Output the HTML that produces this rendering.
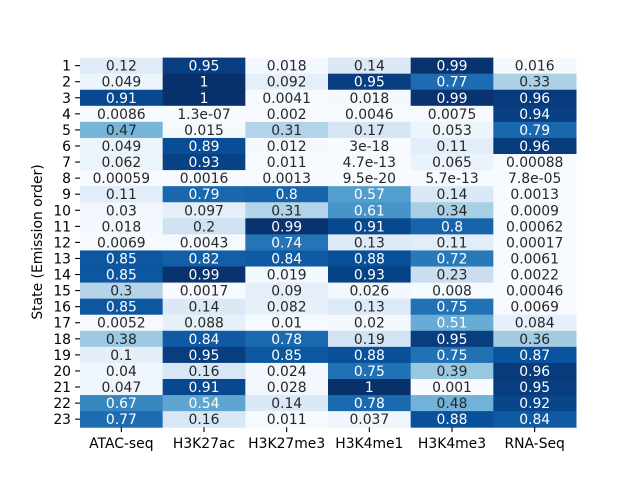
<!DOCTYPE html>
<html><head><meta charset="utf-8"><style>
html,body{margin:0;padding:0;background:#fff}
svg{display:block;font-family:"DejaVu Sans","Liberation Sans",sans-serif}
</style></head><body>
<svg id="chart" width="640" height="480" xmlns="http://www.w3.org/2000/svg">
<rect width="640" height="480" fill="#fff"/>
<text x="42" y="242" font-size="13.9" text-anchor="middle" transform="rotate(-90 42 242)" fill="#000">State (Emission order)</text>
</svg>
<script>
const columns = ["ATAC-seq","H3K27ac","H3K27me3","H3K4me1","H3K4me3","RNA-Seq"];
const states = ["1","2","3","4","5","6","7","8","9","10","11","12","13","14","15","16","17","18","19","20","21","22","23"];
const cellLabels = [
["0.12","0.95","0.018","0.14","0.99","0.016"],
["0.049","1","0.092","0.95","0.77","0.33"],
["0.91","1","0.0041","0.018","0.99","0.96"],
["0.0086","1.3e-07","0.002","0.0046","0.0075","0.94"],
["0.47","0.015","0.31","0.17","0.053","0.79"],
["0.049","0.89","0.012","3e-18","0.11","0.96"],
["0.062","0.93","0.011","4.7e-13","0.065","0.00088"],
["0.00059","0.0016","0.0013","9.5e-20","5.7e-13","7.8e-05"],
["0.11","0.79","0.8","0.57","0.14","0.0013"],
["0.03","0.097","0.31","0.61","0.34","0.0009"],
["0.018","0.2","0.99","0.91","0.8","0.00062"],
["0.0069","0.0043","0.74","0.13","0.11","0.00017"],
["0.85","0.82","0.84","0.88","0.72","0.0061"],
["0.85","0.99","0.019","0.93","0.23","0.0022"],
["0.3","0.0017","0.09","0.026","0.008","0.00046"],
["0.85","0.14","0.082","0.13","0.75","0.0069"],
["0.0052","0.088","0.01","0.02","0.51","0.084"],
["0.38","0.84","0.78","0.19","0.95","0.36"],
["0.1","0.95","0.85","0.88","0.75","0.87"],
["0.04","0.16","0.024","0.75","0.39","0.96"],
["0.047","0.91","0.028","1","0.001","0.95"],
["0.67","0.54","0.14","0.78","0.48","0.92"],
["0.77","0.16","0.011","0.037","0.88","0.84"]
];
const NS="http://www.w3.org/2000/svg";
const svg=document.getElementById('chart');
const L=80,R=576,T=57.6,B=427.2;
const cw=(R-L)/columns.length, ch=(B-T)/states.length;
const xPos=i=>L+i*cw, yPos=j=>T+j*ch;
const stops=["#f7fbff","#deebf7","#c6dbef","#9ecae1","#6baed6","#4292c6","#2171b5","#08519c","#08306b"];
function hex(h){return [1,3,5].map(k=>parseInt(h.substr(k,2),16));}
function blues(v){v=Math.max(0,Math.min(1,v));const p=v*8,i=Math.min(7,Math.floor(p)),f=p-i;
const a=hex(stops[i]),b=hex(stops[i+1]);return 'rgb('+a.map((c,k)=>Math.round(c+(b[k]-c)*f)).join(',')+')';}
function mk(tag,attrs){const e=document.createElementNS(NS,tag);for(const k in attrs)e.setAttribute(k,attrs[k]);return e;}
cellLabels.forEach((row,j)=>{row.forEach((lab,i)=>{
 const v=parseFloat(lab);
 const r=mk('rect',{x:xPos(i),y:yPos(j),width:cw+0.5,height:ch+0.5,fill:blues(v)});
 
 
 svg.appendChild(r);
});});
cellLabels.forEach((row,j)=>{row.forEach((lab,i)=>{
 const v=parseFloat(lab);
 const t=mk('text',{x:xPos(i)+cw/2,y:yPos(j)+ch/2+5,'font-size':13.9,'text-anchor':'middle',fill:v>0.5?'#ffffff':'#262626'});
 t.textContent=lab;
 
 
 svg.appendChild(t);
});});
states.forEach((s,j)=>{
 const y=yPos(j)+ch/2;
 const tk=mk('line',{x1:75.1,x2:80,y1:y,y2:y,stroke:'#000','stroke-width':1.1});
 
 
 svg.appendChild(tk);
 const t=mk('text',{x:71,y:y+5,'font-size':13.9,'text-anchor':'end',fill:'#000'});
 t.textContent=s;
 
 
 svg.appendChild(t);
});
columns.forEach((c,i)=>{
 const x=xPos(i)+cw/2;
 const tk=mk('line',{x1:x,x2:x,y1:B,y2:B+4.9,stroke:'#000','stroke-width':1.1});
 
 
 svg.appendChild(tk);
 const t=mk('text',{x:x,y:B+21,'font-size':13.9,'text-anchor':'middle',fill:'#000'});
 t.textContent=c;
 
 
 svg.appendChild(t);
});
</script>
</body></html>
